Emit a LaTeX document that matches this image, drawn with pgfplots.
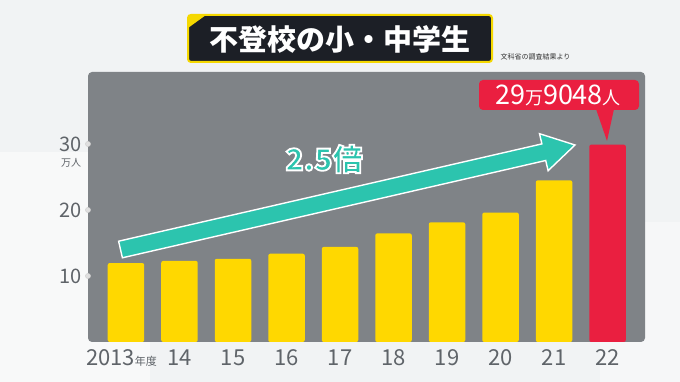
\documentclass[border=0pt]{standalone}
\usepackage{fontspec}
\setmainfont{Noto Sans CJK JP}
\usepackage{pgfplots}
\pgfplotsset{compat=1.18}
\definecolor{bgcol}{HTML}{F1F3F4}
\definecolor{panel}{HTML}{7F8387}
\definecolor{baryel}{HTML}{FFD800}
\definecolor{barred}{HTML}{EA1F40}
\definecolor{tickgray}{HTML}{5F6469}
\definecolor{teal}{HTML}{2CC4AE}
\definecolor{titlebg}{HTML}{1C1F26}
\definecolor{titleyel}{HTML}{F5D800}
\begin{document}
\begin{tikzpicture}
\fill[bgcol] (0pt,0pt) rectangle (680pt,382pt);
\fill[white,opacity=0.5] (0pt,0pt) rectangle (150pt,230pt);
\fill[white,opacity=0.4] (600pt,0pt) rectangle (680pt,160pt);
% title box
\fill[titlebg,draw=titleyel,line width=2pt,rounded corners=3pt] (188pt,320pt) rectangle (492pt,367pt);
\fill[titleyel] (188pt,367pt) -- (206pt,367pt) -- (188pt,354pt) -- cycle;
\node[text=white,font=\fontsize{29}{32}\selectfont\bfseries] at (340pt,343pt) {不登校の小・中学生};
\node[text=black!80,font=\fontsize{7}{8}\selectfont,anchor=west] at (497pt,325pt) {文科省の調査結果より};
\begin{axis}[
  at={(88pt,40pt)}, anchor=south west,
  width=557pt, height=270pt, scale only axis,
  xmin=-0.71, xmax=9.70, ymin=0, ymax=40.9,
  axis line style={draw=none},
  axis background/.style={fill=panel, rounded corners=4pt},
  tick style={draw=none},
  major tick length=0pt,
  ytick={10,20,30},
  xtick={0,...,9},
  xticklabels={{\hspace*{-9pt}2013{\fontsize{11}{13}\selectfont 年度}},14,15,16,17,18,19,20,21,22},
  /pgf/number format/assume math mode=true,
  yticklabel style={text=tickgray,font=\fontsize{20}{22}\selectfont, anchor=east, xshift=-3pt},
  xticklabel style={text=tickgray,font=\fontsize{22}{24}\selectfont, anchor=north, yshift=-4pt},
  clip=false,
]
\addplot[ybar, bar width=36.5pt, bar shift=0pt, fill=baryel, draw=none, rounded corners=2pt]
  coordinates {(0,11.96) (1,12.29) (2,12.60) (3,13.37) (4,14.40) (5,16.45) (6,18.13) (7,19.61) (8,24.49)};
\addplot[ybar, bar width=36.5pt, bar shift=0pt, fill=barred, draw=none, rounded corners=2pt]
  coordinates {(9,29.90)};
\addplot[only marks, mark=*, mark size=2.6pt, mark options={fill=white!75!gray, draw=white!60!gray}]
  coordinates {(-0.71,10) (-0.71,20) (-0.71,30)};
\end{axis}
\node[text=tickgray,font=\fontsize{10}{11}\selectfont] at (71pt,219pt) {万人};
% arrow
\fill[teal,draw=white,line width=1.4pt,line join=miter]
  (118.6pt,140.8pt) -- (541.9pt,238.1pt) -- (539.5pt,248.3pt) -- (575pt,237pt)
  -- (548.1pt,211.3pt) -- (545.7pt,221.5pt) -- (122.4pt,124.2pt) -- cycle;
% callout
\fill[barred,rounded corners=4pt] (479pt,272pt) rectangle (639pt,302pt);
\fill[barred] (596pt,273pt) -- (614pt,273pt) -- (607pt,241pt) -- cycle;
\node[text=white,font=\fontsize{27}{29}\selectfont] at (558pt,287pt) {29{\fontsize{18}{20}\selectfont 万}9048{\fontsize{18}{20}\selectfont 人}};
% outlined label
\node[text=teal,font=\fontsize{30}{32}\selectfont\bfseries] at (324pt,223pt)
  {\special{pdf:literal direct 2 Tr 1.8 w 1 1 1 RG}2.5倍\special{pdf:literal direct 0 Tr 0.4 w 0 0 0 RG}};
\end{tikzpicture}
\end{document}
